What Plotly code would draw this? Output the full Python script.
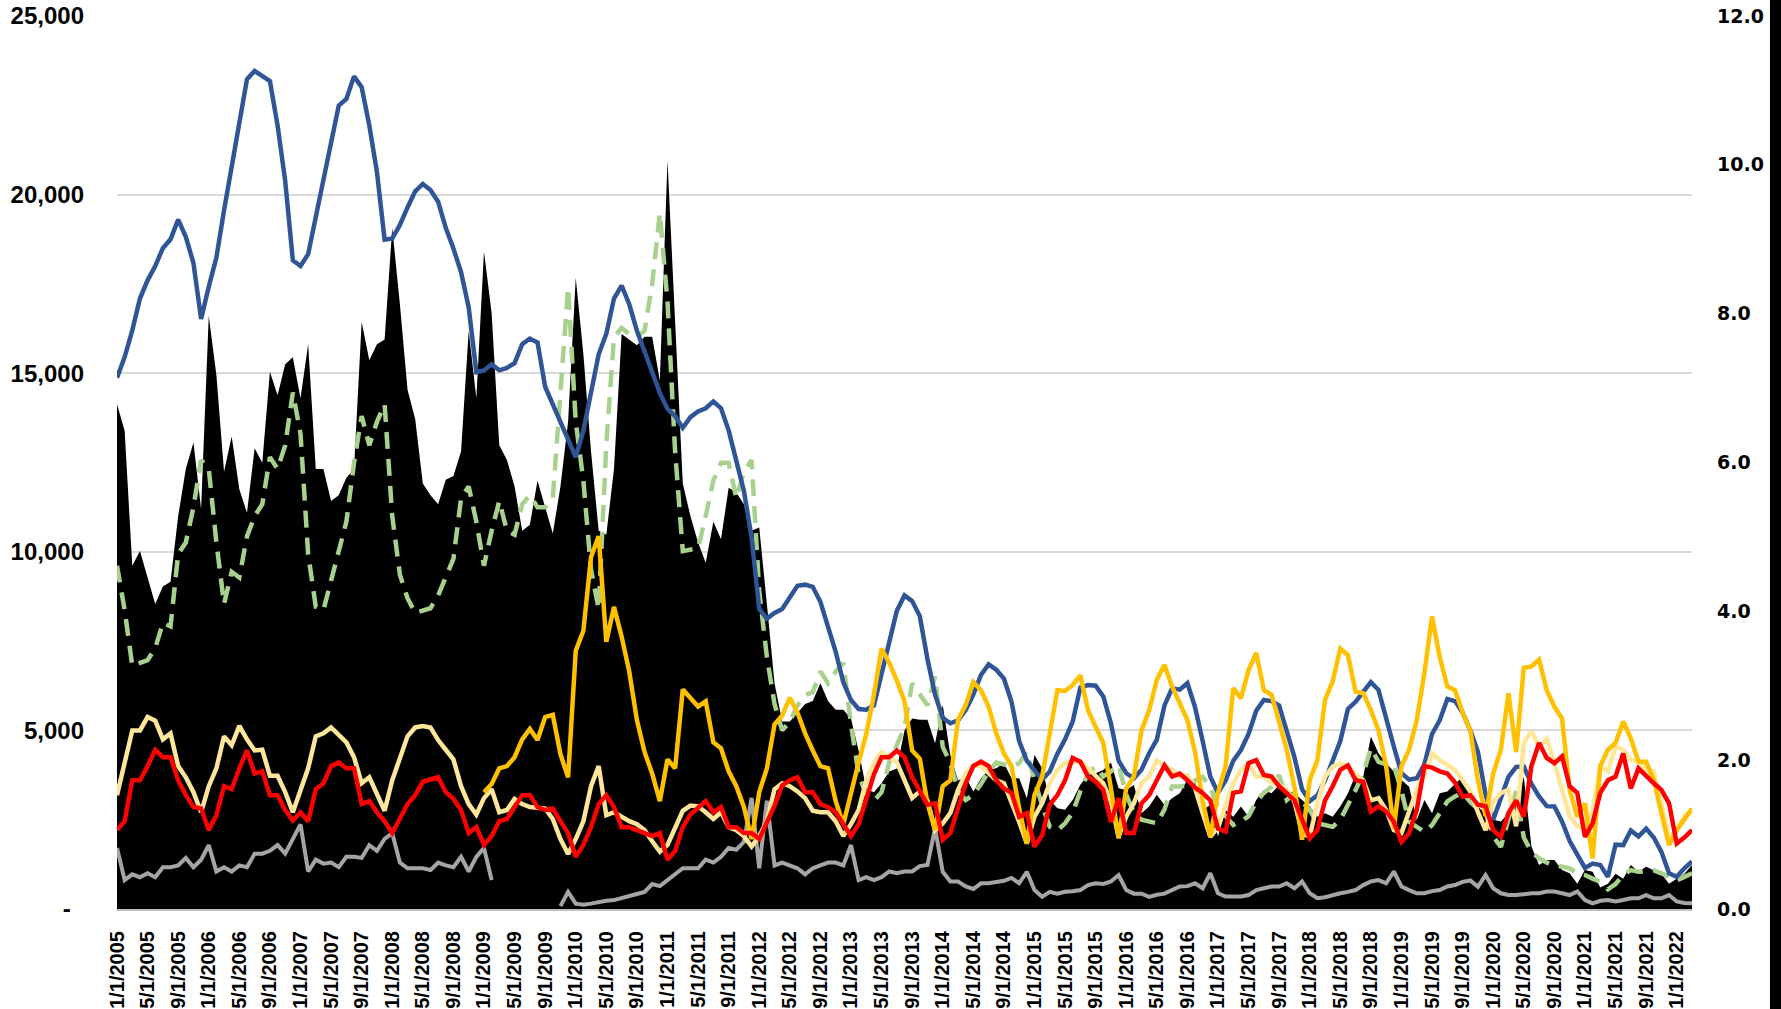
import plotly.graph_objects as go

# ---------------- data (monthly, Jan-2005 .. Mar-2022) ----------------
months = []
for yr in range(2005, 2023):
    for mo in range(1, 13):
        months.append(f"{mo}/1/{yr}")
months = months[:207]
idx = list(range(len(months)))

# black area (left axis)
black_area = [
    14130, 13390, 9610, 10020, 9280, 8540, 9030, 9160, 11000, 12320, 13060, 11200,
    16600, 14950, 12240, 13230, 11750, 11090, 12900, 12490, 15040, 14380, 15250, 15450,
    14300, 15810, 12320, 12320, 11420, 11580, 12070, 12320, 16430, 15360, 15810, 15940,
    19070, 16930, 14540, 13720, 11910, 11580, 11330, 12020, 12120, 12810, 16190, 14300,
    18410, 16680, 12980, 12570, 11830, 10590, 10760, 11990, 11250, 10510, 11830, 13640,
    17670, 15530, 12810, 10590, 10480, 12320, 16100, 15940, 15780, 16020, 16020, 14790,
    20960, 16430, 11910, 11000, 10260, 9690, 10840, 10350, 11790, 11660, 11330, 10590,
    10680, 8540, 6320, 5250, 5250, 5490, 5740, 5820, 6320, 5820, 5580, 5580,
    5330, 4430, 3360, 3270, 3520, 3850, 3930, 5000, 5330, 5300, 5300, 4640,
    5710, 4300, 3600, 3710, 3290, 3650, 3900, 3940, 4080, 3660, 3660, 3100,
    4310, 3940, 3050, 2820, 2780, 3050, 3480, 3760, 3800, 3890, 4100, 3380,
    3330, 3470, 2680, 2870, 3200, 2910, 3100, 3240, 3620, 3560, 2770, 2910,
    2030, 2770, 2580, 2870, 2580, 3050, 3330, 3240, 3470, 3330, 3240, 3050,
    2870, 2580, 2680, 2580, 2870, 3240, 3750, 3700, 4830, 4360, 4080, 3850,
    3610, 3420, 2490, 3050, 2680, 3240, 3290, 3500, 3700, 3150, 2870, 2650,
    2500, 2450, 2680, 2900, 3700, 1750, 1230, 1370, 1370, 1090, 1000, 710,
    1090, 1040, 600, 710, 990, 850, 1230, 1040, 1180, 1090, 990, 710,
    850, 990, 1230,
]

# blue line (left axis)
blue_line = [
    14870, 15450, 16200, 17090, 17600, 18000, 18500, 18750, 19300, 18820, 18080, 16520,
    17420, 18240, 19560, 20790, 21940, 23230, 23460, 23310, 23180, 21940, 20380, 18160,
    18000, 18330, 19390, 20460, 21450, 22490, 22680, 23310, 23010, 21940, 20630, 18740,
    18770, 19150, 19640, 20090, 20300, 20130, 19800, 19070, 18490, 17830, 16840, 15030,
    15080, 15250, 15080, 15150, 15280, 15810, 15970, 15860, 14620, 14130, 13670, 13140,
    12650, 13390, 14540, 15530, 16100, 17090, 17450, 16930, 16190, 15610, 15000, 14450,
    14000, 13800, 13470, 13770, 13930, 14020, 14210, 14020, 13400, 12600, 11700, 10400,
    8400, 8130, 8290, 8400, 8700, 9050, 9080, 9020, 8600, 7950, 7200, 6350,
    5850, 5600, 5580, 5700, 6600, 7500, 8350, 8780, 8620, 8200, 7000, 6000,
    5350, 5200, 5280, 5570, 6000, 6550, 6850, 6700, 6450, 5800, 4700, 4150,
    3900, 3620, 3850, 4350, 4750, 5250, 6200, 6270, 6250, 5950, 5200, 4150,
    3800, 3660, 3900, 4360, 4740, 5700, 6180, 6140, 6320, 5650, 4700, 3700,
    3250, 3600, 4150, 4450, 4900, 5550, 5850, 5820, 5700, 5000, 4250, 3350,
    3020, 3180, 3600, 4150, 4700, 5600, 5800, 6080, 6350, 6130, 5300, 4550,
    3800, 3620, 3660, 4050, 4900, 5280, 5880, 5820, 5500, 5000, 4400, 3200,
    2500, 3100, 3700, 3980, 3990, 3500, 3150, 2880, 2870, 2450, 1900, 1520,
    1150, 1270, 1230, 900, 1800, 1790, 2200, 2030, 2250, 2000, 1600, 1000,
    900, 1140, 1330,
]

# green dashed line (left axis)
green_dash = [
    9610, 8370, 6810, 6890, 6970, 7300, 8010, 7910, 9940, 10260, 11250, 12570,
    12320, 10260, 8540, 9440, 9280, 10430, 11000, 11330, 12650, 12320, 12980, 14460,
    13310, 9940, 8460, 8370, 9200, 10100, 10840, 12490, 13800, 12980, 13640, 14130,
    11000, 9360, 8700, 8290, 8370, 8420, 8780, 9280, 9800, 11500, 11830, 10840,
    9610, 10590, 11420, 10590, 10480, 11330, 11580, 11250, 11250, 11500, 14500, 17400,
    13640, 11990, 9500, 8400, 13000, 16000, 16270, 16100, 16020, 16190, 17500, 19480,
    17000, 12800, 10020, 10050, 10100, 11000, 12000, 12490, 12490, 11500, 12240, 12570,
    8900, 7060, 5740, 5000, 5250, 5700, 5990, 6070, 6650, 6320, 6650, 6890,
    5170, 3770, 3190, 3030, 3270, 4100, 4590, 5080, 6320, 6000, 5700, 6510,
    4540, 4080, 3300, 3050, 3200, 3500, 3850, 4100, 4050, 3990, 4080, 4410,
    3610, 2900, 2300, 2200, 2400, 2700, 3300, 3800, 3990, 3710, 3850, 4030,
    3200, 2700, 2500, 2450, 2400, 2780, 3430, 3430, 3450, 3600, 3700, 3400,
    2850, 2600, 2350, 2450, 2600, 3000, 3250, 3420, 3750, 3050, 3240, 3000,
    2770, 2400, 2350, 2300, 2500, 2900, 3330, 3790, 4500, 4120, 4050, 4030,
    3300, 2440, 2300, 2160, 2350, 2700, 3010, 3150, 3250, 3000, 2800, 2700,
    2030, 1740, 2500, 3300, 2000, 1600, 1420, 1300, 1230, 1180, 1140, 1000,
    950, 850, 760, 550, 700, 950, 1090, 1040, 1060, 1080, 1000, 900,
    800, 900, 1000,
]

# gray line (left axis)
gray_line = [
    1710, 810, 970, 890, 1000, 890, 1170, 1170, 1220, 1430, 1170, 1380,
    1790, 1050, 1170, 1050, 1220, 1170, 1550, 1550, 1630, 1790, 1550, 1960,
    2370, 1050, 1380, 1270, 1300, 1170, 1460, 1460, 1430, 1790, 1630, 1960,
    2120, 1300, 1140, 1140, 1140, 1090, 1300, 1220, 1170, 1460, 1050, 1460,
    1710, 810, None, None, None, None, None, None, None, None, 80, 480,
    150, 120, 150, 200, 230, 250, 300, 350, 420, 480, 700, 640,
    810, 970, 1140, 1140, 1140, 1380, 1300, 1460, 1710, 1660, 1880, 3110,
    1140, 3030, 1220, 1300, 1220, 1140, 970, 1140, 1220, 1300, 1300, 1220,
    1790, 810, 890, 810, 890, 1050, 1000, 1050, 1050, 1200, 1230, 2260,
    1040, 770, 770, 630, 560, 720, 720, 760, 790, 870, 720, 1040,
    530, 340, 480, 430, 480, 500, 530, 670, 720, 700, 770, 950,
    530, 430, 430, 340, 400, 430, 530, 630, 640, 720, 580, 1000,
    440, 350, 350, 350, 390, 530, 580, 630, 630, 720, 580, 770,
    440, 300, 330, 390, 440, 480, 530, 670, 770, 810, 720, 1050,
    630, 530, 440, 440, 500, 530, 630, 670, 760, 800, 620, 950,
    580, 440, 390, 390, 420, 440, 440, 490, 490, 440, 390, 490,
    250, 160, 230, 250, 210, 250, 300, 300, 390, 300, 300, 390,
    210, 170, 160,
]

# gold line (right axis)
gold_line = [None] * 48 + [
    1.57, 1.68, 1.89, 1.92, 2.04, 2.28, 2.42, 2.27, 2.58, 2.61, 2.08, 1.77,
    3.47, 3.74, 4.73, 5.01, 3.59, 4.06, 3.66, 3.19, 2.54, 2.11, 1.82, 1.45,
    2.01, 1.89, 2.95, 2.84, 2.72, 2.79, 2.24, 2.16, 1.85, 1.65, 1.37, 0.94,
    1.57, 1.89, 2.48, 2.60, 2.84, 2.64, 2.36, 2.13, 1.92, 1.89, 1.45, 1.14,
    1.58, 1.97, 2.35, 2.88, 3.50, 3.31, 3.07, 2.79, 2.13, 2.02, 1.42, 1.06,
    1.65, 1.73, 2.54, 2.74, 3.05, 2.94, 2.72, 2.36, 2.09, 1.92, 1.35, 0.88,
    1.53, 1.78, 2.36, 2.94, 2.93, 3.01, 3.14, 2.67, 2.45, 2.23, 1.62, 0.95,
    1.62, 1.78, 2.40, 2.67, 3.08, 3.28, 2.99, 2.76, 2.54, 2.11, 1.46, 0.97,
    1.56, 1.92, 2.97, 2.83, 3.21, 3.44, 2.94, 2.88, 2.52, 2.14, 1.64, 0.93,
    1.73, 2.00, 2.81, 3.06, 3.50, 3.41, 2.92, 2.90, 2.67, 2.40, 1.92, 1.08,
    1.92, 2.14, 2.54, 3.17, 3.93, 3.39, 2.99, 2.94, 2.64, 2.40, 1.73, 1.25,
    1.82, 2.14, 2.90, 2.11, 3.24, 3.26, 3.35, 2.94, 2.72, 2.56, 1.60, 1.24,
    1.42, 0.68, 1.92, 2.14, 2.23, 2.52, 2.29, 1.98, 1.98, 1.73, 1.29, 0.86,
    1.06, 1.20, 1.35,
]

# light yellow line (right axis)
light_yellow_line = [
    1.53, 1.97, 2.40, 2.40, 2.58, 2.53, 2.28, 2.36, 1.92, 1.77, 1.57, 1.30,
    1.65, 1.89, 2.32, 2.20, 2.46, 2.28, 2.13, 2.14, 1.79, 1.79, 1.57, 1.30,
    1.61, 1.89, 2.32, 2.36, 2.44, 2.35, 2.24, 2.04, 1.69, 1.77, 1.53, 1.32,
    1.73, 2.04, 2.32, 2.44, 2.46, 2.44, 2.27, 2.14, 2.01, 1.65, 1.41, 1.27,
    1.49, 1.61, 1.30, 1.33, 1.48, 1.41, 1.37, 1.36, 1.35, 1.21, 0.94, 0.74,
    0.94, 1.18, 1.65, 1.92, 1.26, 1.30, 1.24, 1.18, 1.14, 1.06, 0.91, 0.77,
    0.86, 1.10, 1.32, 1.39, 1.38, 1.30, 1.21, 1.30, 1.10, 1.06, 0.98, 0.84,
    0.98, 1.18, 1.61, 1.69, 1.65, 1.58, 1.49, 1.32, 1.30, 1.30, 1.18, 0.98,
    1.14, 1.33, 1.73, 1.97, 2.11, 2.04, 1.97, 1.73, 1.49, 1.58, 1.46, 1.06,
    1.15, 1.29, 1.60, 1.82, 1.93, 1.92, 1.82, 1.73, 1.69, 1.44, 1.17, 0.88,
    1.24, 1.42, 1.69, 1.87, 1.96, 1.98, 1.98, 1.89, 1.78, 1.69, 1.44, 0.97,
    1.24, 1.42, 1.69, 1.78, 2.00, 1.92, 1.87, 1.78, 1.80, 1.62, 1.29, 0.97,
    1.10, 1.38, 1.69, 1.87, 1.96, 1.78, 1.78, 1.70, 1.67, 1.60, 1.44, 1.02,
    0.97, 1.42, 1.78, 1.91, 1.96, 1.91, 1.82, 1.73, 1.46, 1.49, 1.33, 1.06,
    1.02, 1.33, 1.60, 1.80, 2.09, 2.00, 1.93, 1.87, 1.73, 1.58, 1.30, 1.06,
    1.44, 1.56, 1.60, 1.11, 2.23, 2.39, 2.18, 2.29, 1.96, 1.60, 1.25, 1.11,
    1.08, 1.33, 1.92, 1.85, 2.18, 2.14, 2.00, 2.00, 1.87, 1.85, 1.38, 0.97,
    1.06, 1.25, 1.33,
]

# red line (right axis)
red_line = [
    1.06, 1.18, 1.73, 1.73, 1.92, 2.14, 2.04, 2.04, 1.73, 1.53, 1.37, 1.35,
    1.06, 1.26, 1.65, 1.61, 1.89, 2.13, 1.82, 1.85, 1.53, 1.53, 1.33, 1.19,
    1.30, 1.18, 1.61, 1.69, 1.92, 1.97, 1.89, 1.89, 1.41, 1.45, 1.30, 1.18,
    1.02, 1.21, 1.41, 1.53, 1.71, 1.74, 1.77, 1.57, 1.48, 1.33, 1.02, 1.10,
    0.86, 0.98, 1.18, 1.21, 1.37, 1.53, 1.53, 1.37, 1.33, 1.35, 1.18, 1.02,
    0.70, 0.86, 1.10, 1.41, 1.53, 1.37, 1.10, 1.10, 1.06, 1.02, 0.98, 1.02,
    0.66, 0.78, 1.10, 1.27, 1.37, 1.45, 1.30, 1.37, 1.10, 1.10, 1.02, 1.02,
    0.94, 1.15, 1.39, 1.66, 1.73, 1.77, 1.57, 1.57, 1.41, 1.37, 1.30, 1.14,
    0.98, 1.14, 1.49, 1.81, 2.04, 2.04, 2.13, 2.04, 1.77, 1.58, 1.40, 1.42,
    0.93, 1.02, 1.38, 1.69, 1.92, 1.98, 1.92, 1.73, 1.62, 1.56, 1.24, 1.29,
    0.84, 0.99, 1.40, 1.53, 1.73, 2.03, 1.98, 1.78, 1.71, 1.60, 1.17, 1.49,
    1.02, 1.02, 1.42, 1.53, 1.73, 1.93, 1.78, 1.82, 1.73, 1.63, 1.56, 1.46,
    1.08, 1.04, 1.56, 1.58, 1.96, 2.00, 1.80, 1.78, 1.65, 1.56, 1.46, 1.20,
    0.95, 1.06, 1.46, 1.65, 1.87, 1.93, 1.73, 1.71, 1.31, 1.38, 1.31, 1.17,
    0.90, 1.02, 1.33, 1.92, 1.90, 1.85, 1.82, 1.70, 1.51, 1.53, 1.40, 1.38,
    1.06, 0.97, 1.29, 1.46, 1.24, 1.92, 2.23, 2.03, 1.96, 2.05, 1.65, 1.56,
    0.97, 1.15, 1.56, 1.73, 1.78, 2.09, 1.62, 1.89, 1.78, 1.69, 1.60, 1.42,
    0.88, 0.96, 1.06,
]

left_ticks = [0, 5000, 10000, 15000, 20000, 25000]
left_ticktext = ["-\u00a0\u00a0", "5,000", "10,000", "15,000", "20,000", "25,000"]
right_ticks = [0, 2, 4, 6, 8, 10, 12]
x_tick_every = 4

# ---------------- figure ----------------
fig = go.Figure()

fig.add_trace(go.Scatter(x=idx, y=black_area, mode="lines", fill="tozeroy",
                         fillcolor="#000000", line=dict(color="#000000", width=0),
                         hoverinfo="skip", showlegend=False))
fig.add_trace(go.Scatter(x=idx, y=green_dash, mode="lines",
                         line=dict(color="#A9D18E", width=4.5, dash="17px,10px"),
                         hoverinfo="skip", showlegend=False))
fig.add_trace(go.Scatter(x=idx, y=blue_line, mode="lines",
                         line=dict(color="#2F5597", width=4.5),
                         hoverinfo="skip", showlegend=False))
fig.add_trace(go.Scatter(x=idx, y=gray_line, mode="lines", connectgaps=False,
                         line=dict(color="#A5A5A5", width=4),
                         hoverinfo="skip", showlegend=False))
fig.add_trace(go.Scatter(x=idx, y=light_yellow_line, mode="lines", yaxis="y2",
                         line=dict(color="#FFE699", width=4.5),
                         hoverinfo="skip", showlegend=False))
fig.add_trace(go.Scatter(x=idx, y=gold_line, mode="lines", yaxis="y2",
                         line=dict(color="#FFC000", width=4.5),
                         hoverinfo="skip", showlegend=False))
fig.add_trace(go.Scatter(x=idx, y=red_line, mode="lines", yaxis="y2",
                         line=dict(color="#FF0000", width=4.5),
                         hoverinfo="skip", showlegend=False))

label_font = dict(family="Liberation Sans, Arial, sans-serif", color="#000000", weight="bold")

fig.update_layout(
    width=1781, height=1009, autosize=False,
    margin=dict(l=117, r=89, t=16, b=100, pad=0, autoexpand=False),
    paper_bgcolor="#FFFFFF", plot_bgcolor="#FFFFFF",
    showlegend=False,
    xaxis=dict(
        range=[0, len(idx) - 1], automargin=False,
        tickmode="array", tickvals=idx[::x_tick_every], ticktext=months[::x_tick_every],
        tickangle=-90, tickfont=dict(size=20, **label_font),
        showgrid=False, zeroline=False,
        showline=True, linecolor="#BFBFBF", linewidth=2,
        ticks="", ticklabelstandoff=12,
    ),
    yaxis=dict(
        range=[0, 25000], automargin=False,
        tickmode="array", tickvals=left_ticks, ticktext=left_ticktext,
        tickfont=dict(size=24, **label_font),
        showgrid=True, gridcolor="#D9D9D9", gridwidth=1.5,
        zeroline=False, showline=False, ticks="", ticklabelstandoff=32,
    ),
    yaxis2=dict(
        range=[0, 12], overlaying="y", side="right", automargin=False,
        tickmode="array", tickvals=right_ticks, tickformat=".1f",
        tickfont=dict(size=19, family="DejaVu Sans, Verdana, sans-serif",
                      color="#000000", weight="bold"),
        showgrid=False, zeroline=False, showline=False, ticks="", ticklabelstandoff=24,
    ),
    shapes=[dict(type="rect", xref="paper", yref="paper",
                 x0=1.0495, x1=1.07, y0=-0.2, y1=1.1,
                 fillcolor="#000000", line=dict(width=0), layer="above")],
)

fig.write_html("out.html", config={"displayModeBar": False},
               post_script="document.body.style.margin='0px';")
